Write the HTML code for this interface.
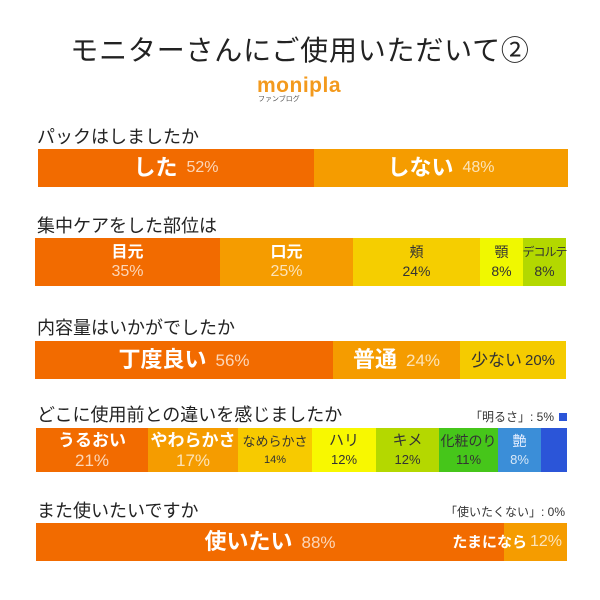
<!DOCTYPE html>
<html><head><meta charset="utf-8">
<style>
*{margin:0;padding:0;box-sizing:border-box}
html,body{width:600px;height:600px;background:#fff;overflow:hidden}
body{position:relative;font-family:"Liberation Sans","Noto Sans CJK JP",sans-serif;color:#222}
.a{position:absolute;white-space:nowrap}
.h{font-size:18px;line-height:18px;color:#222;left:37px}
.bar{position:absolute;display:flex}
.seg{height:100%;display:flex;flex-direction:column;align-items:center;justify-content:center;overflow:visible;white-space:nowrap}
.row{display:flex;align-items:center;justify-content:center;white-space:nowrap;line-height:1}
.w{color:#fff;font-weight:bold}
.p{color:rgba(255,255,255,0.72)}
.d{color:#333}
</style></head><body>

<div class="a" style="left:0;width:600px;top:37px;text-align:center;font-size:28px;line-height:28px;letter-spacing:0.8px;color:#222">モニターさんにご使用いただいて②</div>

<div class="a" style="left:257px;top:75px;font-size:21px;line-height:21px;font-weight:bold;color:#F39A1E;letter-spacing:0.5px">monipla</div>
<div class="a" style="left:258px;top:96px;font-size:7px;line-height:7px;color:#555">ファンブログ</div>

<!-- Q1 -->
<div class="a h" style="top:128px">パックはしましたか</div>
<div class="bar" style="left:38px;top:149px;width:530px;height:38px">
  <div class="seg" style="width:276px;background:#F26B00"><div class="row"><span class="w" style="font-size:22px">した</span><span class="p" style="font-size:16px;margin-left:9px">52%</span></div></div>
  <div class="seg" style="width:254px;background:#F59C00"><div class="row"><span class="w" style="font-size:22px">しない</span><span class="p" style="font-size:16px;margin-left:9px">48%</span></div></div>
</div>

<!-- Q2 -->
<div class="a h" style="top:217px">集中ケアをした部位は</div>
<div class="bar" style="left:35px;top:238px;width:531px;height:48px">
  <div class="seg" style="width:185px;background:#F26B00"><div class="w" style="font-size:16px;line-height:19px">目元</div><div class="p" style="font-size:16px;line-height:19px">35%</div></div>
  <div class="seg" style="width:133px;background:#F59C00"><div class="w" style="font-size:16px;line-height:19px">口元</div><div class="p" style="font-size:16px;line-height:19px">25%</div></div>
  <div class="seg" style="width:127px;background:#F5CE00"><div class="d" style="font-size:14px;line-height:19px">頬</div><div class="d" style="font-size:14px;line-height:19px">24%</div></div>
  <div class="seg" style="width:43px;background:#F0F800"><div class="d" style="font-size:14px;line-height:19px">顎</div><div class="d" style="font-size:14px;line-height:19px">8%</div></div>
  <div class="seg" style="width:43px;background:#B3D800"><div class="d" style="font-size:12px;line-height:19px;letter-spacing:-1px">デコルテ</div><div class="d" style="font-size:14px;line-height:19px">8%</div></div>
</div>

<!-- Q3 -->
<div class="a h" style="top:319px">内容量はいかがでしたか</div>
<div class="bar" style="left:35px;top:341px;width:531px;height:38px">
  <div class="seg" style="width:298px;background:#F26B00"><div class="row"><span class="w" style="font-size:22px">丁度良い</span><span class="p" style="font-size:17px;margin-left:9px">56%</span></div></div>
  <div class="seg" style="width:127px;background:#F59C00"><div class="row"><span class="w" style="font-size:22px">普通</span><span class="p" style="font-size:17px;margin-left:9px">24%</span></div></div>
  <div class="seg" style="width:106px;background:#F5CB00"><div class="row"><span class="d" style="font-size:17px">少ない</span><span class="d" style="font-size:15px;margin-left:3px">20%</span></div></div>
</div>

<!-- Q4 -->
<div class="a h" style="top:406px">どこに使用前との違いを感じましたか</div>
<div class="a" style="right:46px;top:411px;font-size:12px;line-height:12px;color:#333">「明るさ」: 5%</div>
<div class="a" style="left:559px;top:413px;width:8px;height:8px;background:#2B55D8"></div>
<div class="bar" style="left:36px;top:428px;width:531px;height:44px">
  <div class="seg" style="width:112px;background:#F26B00"><div class="w" style="font-size:17px;line-height:20px">うるおい</div><div class="p" style="font-size:17px;line-height:19px">21%</div></div>
  <div class="seg" style="width:90px;background:#F59C00"><div class="w" style="font-size:17px;line-height:20px">やわらかさ</div><div class="p" style="font-size:17px;line-height:19px">17%</div></div>
  <div class="seg" style="width:74px;background:#F7CA00"><div class="d" style="font-size:13px;line-height:20px">なめらかさ</div><div class="d" style="font-size:11px;line-height:17px">14%</div></div>
  <div class="seg" style="width:64px;background:#F8F800"><div class="d" style="font-size:15px;line-height:20px">ハリ</div><div class="d" style="font-size:13px;line-height:18px">12%</div></div>
  <div class="seg" style="width:63px;background:#B4D800"><div class="d" style="font-size:15px;line-height:20px">キメ</div><div class="d" style="font-size:13px;line-height:18px">12%</div></div>
  <div class="seg" style="width:59px;background:#46C61A"><div class="d" style="font-size:14px;line-height:20px">化粧のり</div><div class="d" style="font-size:13px;line-height:18px">11%</div></div>
  <div class="seg" style="width:43px;background:#3B8ED8"><div style="font-size:14px;line-height:20px;color:#E8F0FF">艶</div><div style="font-size:13px;line-height:18px;color:rgba(255,255,255,0.8)">8%</div></div>
  <div class="seg" style="width:26px;background:#2B55D8"></div>
</div>

<!-- Q5 -->
<div class="a h" style="top:502px">また使いたいですか</div>
<div class="a" style="right:35px;top:506px;font-size:12px;line-height:12px;color:#333">「使いたくない」: 0%</div>
<div class="bar" style="left:36px;top:523px;width:531px;height:38px">
  <div class="seg" style="width:468px;background:#F26B00"><div class="row"><span class="w" style="font-size:22px">使いたい</span><span class="p" style="font-size:17px;margin-left:9px">88%</span></div></div>
  <div class="seg" style="width:63px;background:#F59C00"></div>
</div>
<div class="a" style="right:38px;top:532px;height:20px;display:flex;align-items:center;line-height:1"><span class="w" style="font-size:15px">たまになら</span><span class="p" style="font-size:16px;margin-left:3px">12%</span></div>

</body></html>
